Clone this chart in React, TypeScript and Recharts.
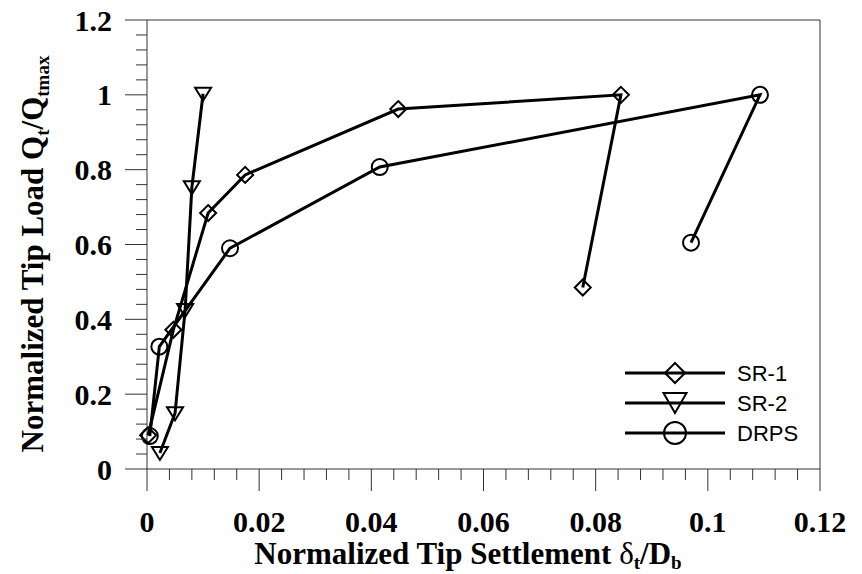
import React from "react";
import { ScatterChart, Scatter, XAxis, YAxis, ReferenceLine, Legend } from "recharts";

// values
const sr1X = [0.0002, 0.0047, 0.0109, 0.0175, 0.0448, 0.0845, 0.0777];
const sr1Y = [0.09, 0.372, 0.684, 0.786, 0.962, 1.0, 0.485];
const sr2X = [0.0023, 0.005, 0.0068, 0.008, 0.01];
const sr2Y = [0.043, 0.149, 0.425, 0.753, 1.003];
const drpsX = [0.0005, 0.0022, 0.0148, 0.0415, 0.1093, 0.097];
const drpsY = [0.088, 0.327, 0.59, 0.807, 1.0, 0.605];

const xMajor = [0, 0.02, 0.04, 0.06, 0.08, 0.1, 0.12];
const yMajor = [0, 0.2, 0.4, 0.6, 0.8, 1, 1.2];
const seriesNames = ["SR-1", "SR-2", "DRPS"];

const toPoints = (xs: number[], ys: number[]) => xs.map((x, i) => ({ x, y: ys[i] }));
const sr1 = toPoints(sr1X, sr1Y);
const sr2 = toPoints(sr2X, sr2Y);
const drps = toPoints(drpsX, drpsY);

// 4 minor ticks between each pair of major ticks
const withMinor = (majors: number[]) =>
  majors.flatMap((m, i) => {
    if (i === majors.length - 1) return [m];
    const step = (majors[i + 1] - m) / 5;
    return [0, 1, 2, 3, 4].map((k) => m + k * step);
  });

const isMajor = (v: number, majors: number[]) => majors.some((m) => Math.abs(m - v) < 1e-9);
const SERIF = "'Liberation Serif', 'Times New Roman', serif";
const SANS = "'Liberation Sans', Arial, sans-serif";
const AXIS = "#333";

const XTick = (props: any) => {
  const { x, y, payload } = props;
  const major = isMajor(payload.value, xMajor);
  return (
    <g>
      <line x1={x} x2={x} y1={y} y2={y + (major ? 22 : 11)} stroke={AXIS} strokeWidth={1} />
      {major && (
        <text x={x} y={y + 52} textAnchor="middle" dominantBaseline="central" fontFamily={SERIF} fontWeight="bold" fontSize={30} fill="#000">
          {String(Number(payload.value.toFixed(3)))}
        </text>
      )}
    </g>
  );
};

const YTick = (props: any) => {
  const { x, y, payload } = props;
  const major = isMajor(payload.value, yMajor);
  return (
    <g>
      <line x1={x} x2={x - (major ? 22 : 11)} y1={y} y2={y} stroke={AXIS} strokeWidth={1} />
      {major && (
        <text x={x - 35} y={y} textAnchor="end" dominantBaseline="central" fontFamily={SERIF} fontWeight="bold" fontSize={30} fill="#000">
          {String(Number(payload.value.toFixed(2)))}
        </text>
      )}
    </g>
  );
};

const diamondPath = (cx: number, cy: number, r: number) => `M${cx},${cy - r}L${cx + r},${cy}L${cx},${cy + r}L${cx - r},${cy}Z`;
const trianglePath = (cx: number, cy: number, w: number, up: number, down: number) =>
  `M${cx - w},${cy - up}L${cx + w},${cy - up}L${cx},${cy + down}Z`;

const Diamond = (p: any) => <path d={diamondPath(p.cx, p.cy, 8)} fill="none" stroke="#000" strokeWidth={2} />;
const TriDown = (p: any) => <path d={trianglePath(p.cx, p.cy, 8, 6, 7)} fill="none" stroke="#000" strokeWidth={2} />;
const Ring = (p: any) => <circle cx={p.cx} cy={p.cy} r={8} fill="none" stroke="#000" strokeWidth={2} />;

const LegendBox = () => {
  const rows = [23, 53, 83];
  return (
    <svg width={170} height={100} style={{ overflow: "visible" }}>
      {seriesNames.map((name, i) => {
        const cy = rows[i];
        return (
          <g key={name}>
            <line x1={15} x2={115} y1={cy} y2={cy} stroke="#000" strokeWidth={3} />
            {i === 0 && <path d={diamondPath(65, cy, 10)} fill="none" stroke="#000" strokeWidth={2} />}
            {i === 1 && <path d={trianglePath(65, cy, 11.5, 10, 10)} fill="none" stroke="#000" strokeWidth={2} />}
            {i === 2 && <circle cx={65} cy={cy} r={11} fill="none" stroke="#000" strokeWidth={2} />}
            <text x={127} y={cy} dominantBaseline="central" fontFamily={SANS} fontSize={22} fill="#000">
              {name}
            </text>
          </g>
        );
      })}
    </svg>
  );
};

const XTitle = () => (
  <text x={468} y={564} textAnchor="middle" fontFamily={SERIF} fontWeight="bold" fontSize={31} fill="#000">
    Normalized Tip Settlement{" "}
    <tspan fontWeight="normal">δ</tspan>
    <tspan fontSize={19} dy={5}>t</tspan>
    <tspan dy={-5}>/D</tspan>
    <tspan fontSize={19} dy={5}>b</tspan>
  </text>
);

const YTitle = () => (
  <text x={43} y={254} transform="rotate(-90, 43, 254)" textAnchor="middle" fontFamily={SERIF} fontWeight="bold" fontSize={31} fill="#000">
    Normalized Tip Load Q
    <tspan fontSize={19} dy={6}>t</tspan>
    <tspan dy={-6}>/Q</tspan>
    <tspan fontSize={19} dy={6}>tmax</tspan>
  </text>
);

export default function App() {
  return (
    <div style={{ position: "absolute", left: 0, top: 0, background: "#fff" }}>
      <ScatterChart width={862} height={574} margin={{ top: 20, right: 42, bottom: 45, left: 47 }}>
        <XAxis
          type="number"
          dataKey="x"
          domain={[0, 0.12]}
          ticks={withMinor(xMajor)}
          interval={0}
          tickSize={0}
          tickMargin={0}
          tickLine={false}
          tick={<XTick />}
          height={60}
          axisLine={{ stroke: AXIS, strokeWidth: 1 }}
          label={{ content: () => <XTitle /> }}
        />
        <YAxis
          type="number"
          dataKey="y"
          domain={[0, 1.2]}
          ticks={withMinor(yMajor)}
          interval={0}
          tickSize={0}
          tickMargin={0}
          tickLine={false}
          tick={<YTick />}
          width={100}
          axisLine={{ stroke: AXIS, strokeWidth: 1 }}
          label={{ content: () => <YTitle /> }}
        />
        <ReferenceLine y={1.2} stroke={AXIS} strokeWidth={1} />
        <ReferenceLine x={0.12} stroke={AXIS} strokeWidth={1} />
        <Scatter name="SR-1" data={sr1} line={{ stroke: "#000", strokeWidth: 3 }} shape={<Diamond />} isAnimationActive={false} />
        <Scatter name="SR-2" data={sr2} line={{ stroke: "#000", strokeWidth: 3 }} shape={<TriDown />} isAnimationActive={false} />
        <Scatter name="DRPS" data={drps} line={{ stroke: "#000", strokeWidth: 3 }} shape={<Ring />} isAnimationActive={false} />
        <Legend
          layout="horizontal"
          verticalAlign="middle"
          align="center"
          content={() => <LegendBox />}
          wrapperStyle={{ left: 610, top: 350, width: 170, height: 100 }}
        />
      </ScatterChart>
    </div>
  );
}
